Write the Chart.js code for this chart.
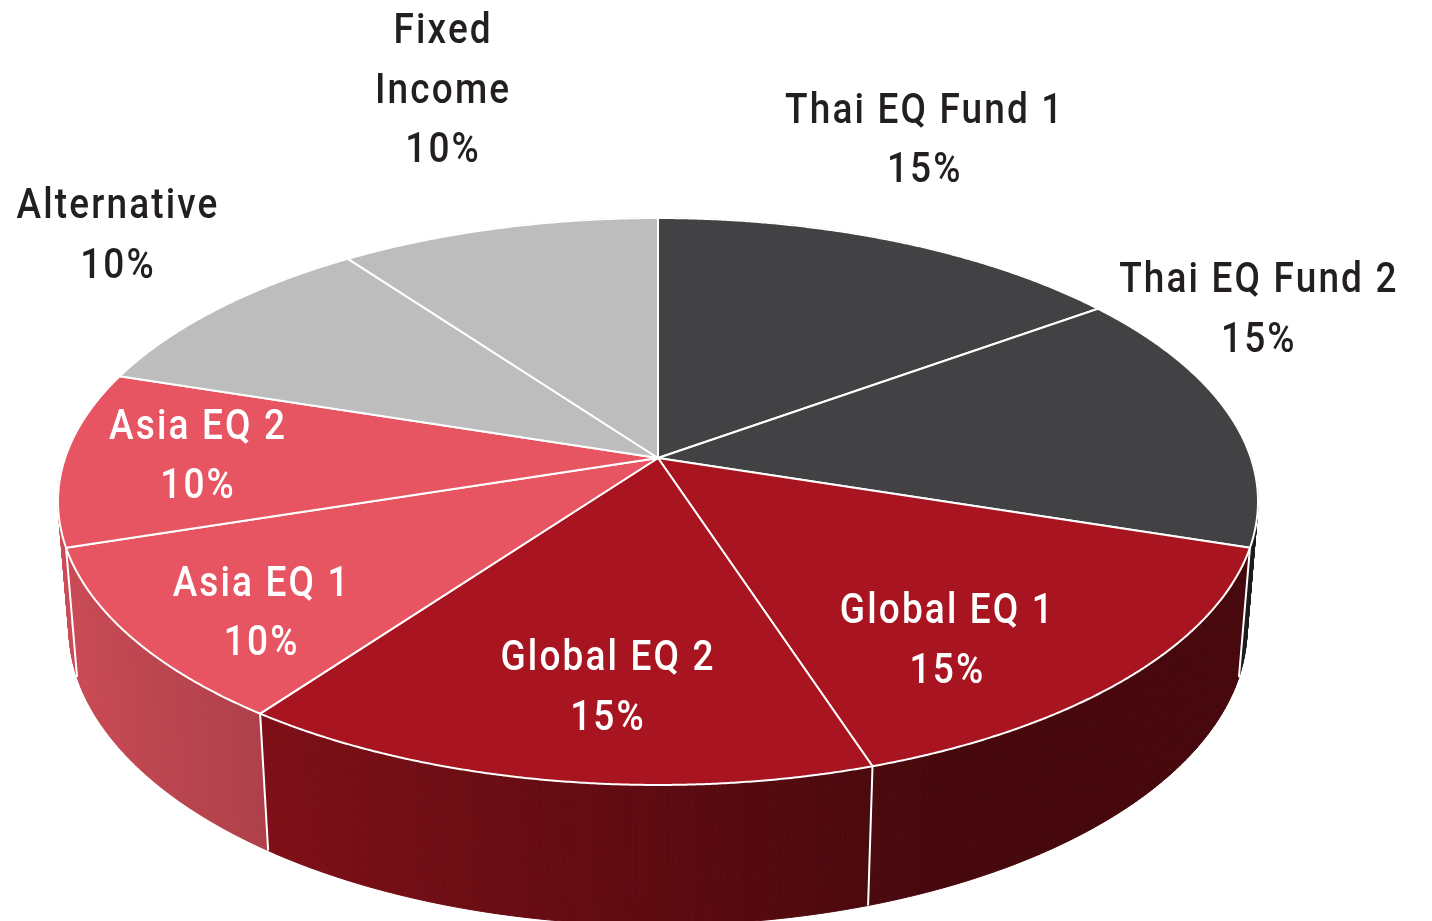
<!DOCTYPE html>
<html>
<head>
<meta charset="utf-8">
<script src="https://cdn.jsdelivr.net/npm/chart.js@4.4.1/dist/chart.umd.min.js"></script>
<style>
  html, body { margin: 0; padding: 0; background: #fff; overflow: hidden; }
  canvas { display: block; }
</style>
</head>
<body>
<canvas id="allocChart" width="1432" height="921"></canvas>
<script>
// data
const fundLabels = ['Thai EQ Fund 1', 'Thai EQ Fund 2', 'Global EQ 1', 'Global EQ 2', 'Asia EQ 1', 'Asia EQ 2', 'Alternative', ['Fixed', 'Income']];
const fundWeights = [15, 15, 15, 15, 10, 10, 10, 10];
const sliceColors = ['#424244', '#424244', '#a8141f', '#a8141f', '#e65561', '#e65561', '#bdbdbd', '#bdbdbd'];

// label placement: r = radius factor along the mid angle, then pixel nudge
const labelLayout = [
    { r: 1, dx: 30, dy: -104 },
    { r: 1, dx: 29, dy: -109 },
    { r: 0.72, dx: -38, dy: 27 },
    { r: 0.72, dx: 25, dy: 6 },
    { r: 0.72, dx: -27, dy: 27 },
    { r: 0.72, dx: -33, dy: -5 },
    { r: 1, dx: -100, dy: -76 },
    { r: 1, dx: -55, dy: -141 }
];

// perspective of the disc
const cx = 658, cy = 458;
const RX = 592.9, RY = 276.8, PERSP = 0.1534;
const BOTTOM_W = 1.018, BOTTOM_SHIFT = 127;

function proj(theta, r, bottom) {
    const u = r * Math.cos(theta), v = r * Math.sin(theta);
    const w = (bottom ? BOTTOM_W : 1) - PERSP * v;
    return { x: cx + RX * u / w, y: cy + (RY * v + (bottom ? BOTTOM_SHIFT : 0)) / w };
}

function shade(hex, theta) {
    const t = (1 - Math.cos(theta)) / 2;
    const s = Math.min(1, Math.max(0, (t - 0.3) / 0.69));
    const f = 0.42 + 0.47 * s;
    const n = parseInt(hex.slice(1), 16);
    const r = Math.round(((n >> 16) & 255) * f);
    const g = Math.round(((n >> 8) & 255) * f);
    const b = Math.round((n & 255) * f);
    return 'rgb(' + r + ',' + g + ',' + b + ')';
}

const step = Math.PI / 360;

const pie3d = {
    id: 'pie3d',
    beforeDatasetsDraw(chart) {
        const ctx = chart.ctx;
        const arcs = chart.getDatasetMeta(0).data;

        // side wall, drawn as thin strips, back to front
        const strips = [];
        arcs.forEach((arc) => {
            const col = arc.options.backgroundColor;
            for (let a = arc.startAngle; a < arc.endAngle - 1e-6; a += step) {
                const b = Math.min(a + step, arc.endAngle);
                strips.push({ a: a, b: b, col: col, v: Math.sin((a + b) / 2) });
            }
        });
        strips.sort((p, q) => p.v - q.v);
        strips.forEach((s) => {
            const p1 = proj(s.a, 1, false), p2 = proj(s.b, 1, false);
            const p3 = proj(s.b, 1, true), p4 = proj(s.a, 1, true);
            const c = shade(s.col, (s.a + s.b) / 2);
            ctx.beginPath();
            ctx.moveTo(p1.x, p1.y);
            ctx.lineTo(p2.x, p2.y);
            ctx.lineTo(p3.x, p3.y);
            ctx.lineTo(p4.x, p4.y);
            ctx.closePath();
            ctx.fillStyle = c;
            ctx.fill();
            ctx.strokeStyle = c;
            ctx.lineWidth = 1;
            ctx.stroke();
        });

        // white seams on the visible side
        ctx.strokeStyle = '#ffffff';
        ctx.lineWidth = 2;
        arcs.forEach((arc) => {
            const a = arc.startAngle;
            if (Math.sin(a) > PERSP) {
                const t = proj(a, 1, false), b = proj(a, 1, true);
                ctx.beginPath();
                ctx.moveTo(t.x, t.y);
                ctx.lineTo(b.x, b.y);
                ctx.stroke();
            }
        });

        // top faces
        arcs.forEach((arc) => {
            ctx.beginPath();
            ctx.moveTo(cx, cy);
            for (let a = arc.startAngle; a < arc.endAngle; a += step / 2) {
                const p = proj(a, 1, false);
                ctx.lineTo(p.x, p.y);
            }
            const e = proj(arc.endAngle, 1, false);
            ctx.lineTo(e.x, e.y);
            ctx.closePath();
            ctx.fillStyle = arc.options.backgroundColor;
            ctx.fill();
            ctx.strokeStyle = '#ffffff';
            ctx.lineWidth = 2;
            ctx.lineJoin = 'round';
            ctx.stroke();
        });

        // labels
        const total = fundWeights.reduce((t, v) => t + v, 0);
        const fontSize = 43, lineH = 59.5, capH = fontSize * 0.711;
        ctx.font = '500 ' + fontSize + 'px Roboto';
        ctx.textAlign = 'center';
        ctx.textBaseline = 'alphabetic';
        arcs.forEach((arc, i) => {
            const lay = labelLayout[i];
            const mid = (arc.startAngle + arc.endAngle) / 2;
            const anchor = proj(mid, lay.r, false);
            const x = anchor.x + lay.dx, y = anchor.y + lay.dy;
            const name = chart.data.labels[i];
            const lines = (Array.isArray(name) ? name : [name]).concat([Math.round(fundWeights[i] / total * 100) + '%']);
            ctx.fillStyle = lay.r < 1 ? '#ffffff' : '#231f20';
            const top = y - (lines.length - 1) * lineH / 2;
            lines.forEach((ln, k) => {
                ctx.save();
                ctx.translate(x, top + k * lineH + capH / 2);
                ctx.scale(0.86, 1);
                ctx.letterSpacing = '2.5px';
                ctx.fillText(ln, 0, 0);
                ctx.restore();
            });
        });

        return false;
    }
};

new Chart(document.getElementById('allocChart').getContext('2d'), {
    type: 'pie',
    data: {
        labels: fundLabels,
        datasets: [{
            data: fundWeights,
            backgroundColor: sliceColors,
            borderWidth: 0
        }]
    },
    options: {
        responsive: false,
        animation: false,
        events: [],
        plugins: {
            legend: { display: false },
            tooltip: { enabled: false }
        }
    },
    plugins: [pie3d]
});
</script>
</body>
</html>
